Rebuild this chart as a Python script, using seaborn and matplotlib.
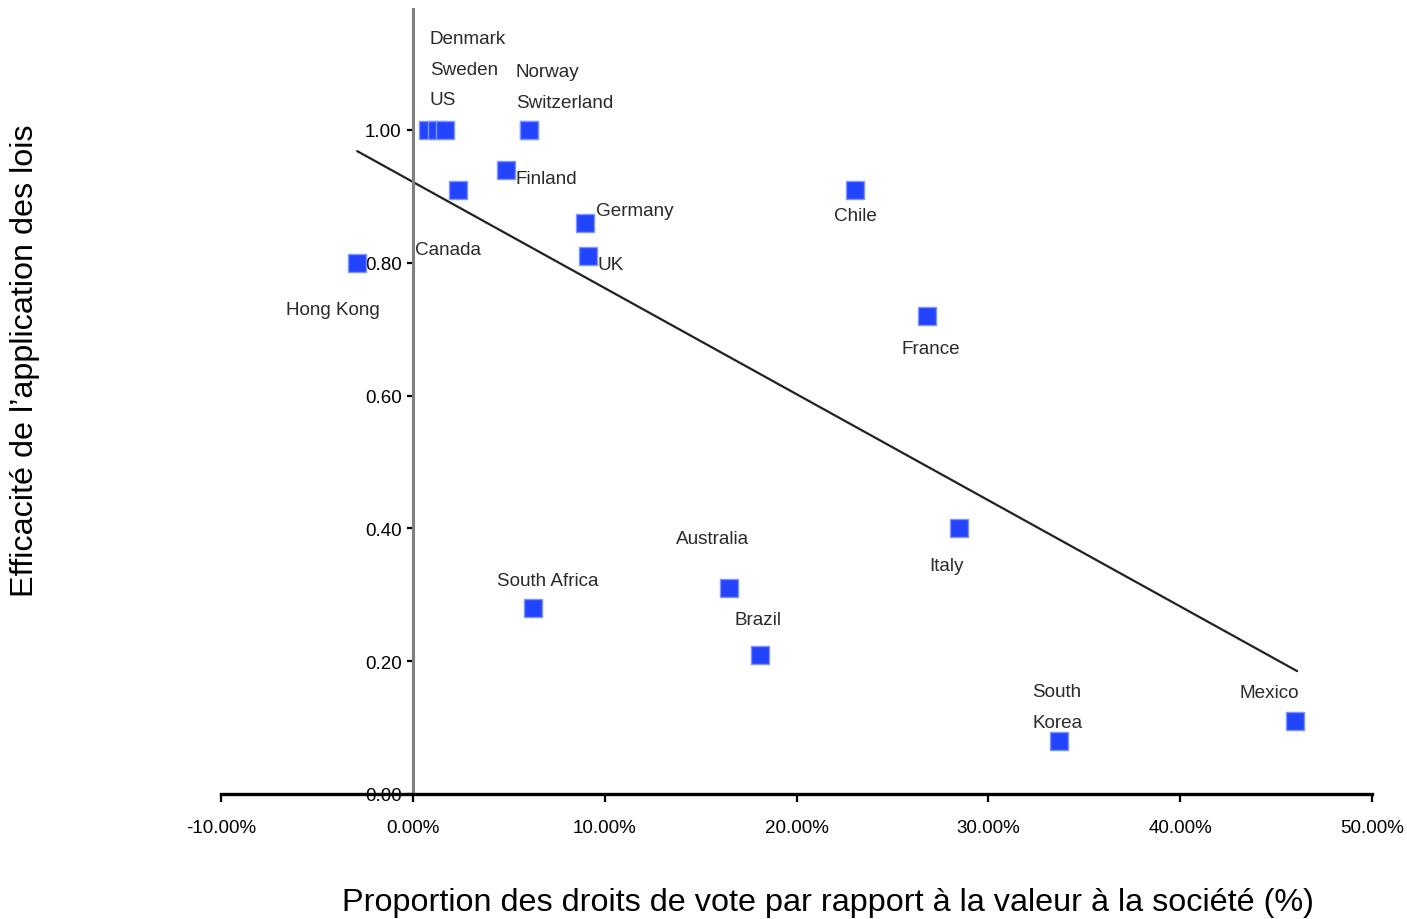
import pandas as pd
import seaborn as sns
import matplotlib.pyplot as plt
from matplotlib.ticker import FuncFormatter

# data
countries = ["Denmark", "Sweden", "US", "Norway", "Switzerland", "Finland", "Canada",
             "Hong Kong", "Germany", "UK", "Chile", "France", "Italy", "Australia",
             "South Africa", "Brazil", "South\nKorea", "Mexico"]
voting_share = [0.8, 1.25, 1.7, 6.05, 6.05, 4.85, 2.35, -2.9, 8.95, 9.15, 23.05, 26.8,
                28.45, 16.5, 6.25, 18.1, 33.7, 46.0]
enforcement = [1.00, 1.00, 1.00, 1.00, 1.00, 0.94, 0.91, 0.80, 0.86, 0.81, 0.91, 0.72,
               0.40, 0.31, 0.28, 0.21, 0.08, 0.11]

# trend line end points (as drawn in the original)
trend_x = [-2.9, 46.1]
trend_y = [0.968, 0.185]

# label offsets in pixels (left edge of text, vertical centre) relative to each point
label_offsets = [(1, 91), (-7, 60), (-16, 30), (-13, 58), (-13, 27), (10, -9), (-43, -60),
                 (-71, -47), (11, 12), (9, -8), (-21, -26), (-25, -33), (-29, -37),
                 (-53, 50), (-36, 28), (-26, 35), (-27, 34), (-56, 28)]

df = pd.DataFrame({"country": countries, "x": voting_share, "y": enforcement})

sns.set_style("white")
plt.rcParams["font.family"] = ["Liberation Sans", "DejaVu Sans"]

fig = plt.figure(figsize=(14.07, 9.2), dpi=100)
ax = fig.add_axes([221 / 1407, 1 - 795 / 920, (1372 - 221) / 1407, (795 - 10) / 920])

sns.lineplot(x=trend_x, y=trend_y, ax=ax, color="#222222", linewidth=1.6)
sns.scatterplot(data=df, x="x", y="y", ax=ax, marker="s", s=150, color="#2244ff",
                edgecolor="#7f95ff", linewidth=1, zorder=3)

for (name, x, y), (dx, dy) in zip(zip(countries, voting_share, enforcement), label_offsets):
    ax.annotate(name, (x, y), xytext=(dx, dy), textcoords="offset pixels",
                ha="left", va="center", fontsize=13.6, color="#2a2a2a",
                linespacing=2.05)

ax.set_xlim(-10, 50)
ax.set_ylim(0, 1.182)
ax.set_xticks(range(-10, 51, 10))
ax.set_yticks([0, 0.2, 0.4, 0.6, 0.8, 1.0])
ax.xaxis.set_major_formatter(FuncFormatter(lambda v, p: f"{v:.2f}%"))
ax.yaxis.set_major_formatter(FuncFormatter(lambda v, p: f"{v:.2f}"))

for s in ["top", "right"]:
    ax.spines[s].set_visible(False)
ax.spines["left"].set_position(("data", 0))
ax.spines["left"].set_color("#808080")
ax.spines["left"].set_linewidth(2.2)
ax.spines["bottom"].set_color("black")
ax.spines["bottom"].set_linewidth(2.4)

ax.tick_params(axis="x", bottom=True, direction="out", length=6, width=1.6, pad=12,
               labelsize=13.5, colors="black")
ax.tick_params(axis="y", left=True, direction="out", length=4, width=1.6, pad=4,
               labelsize=13.5, colors="black")
ax.set_xlabel("")
ax.set_ylabel("")

fig.text(25 / 1407, 1 - 361 / 920, "Efficacité de l’application des lois",
         rotation=90, ha="center", va="center", fontsize=23.3, color="black")
fig.text(828 / 1407, 1 - 903 / 920,
         "Proportion des droits de vote par rapport à la valeur à la société (%)",
         ha="center", va="center", fontsize=23.3, color="black")

fig.savefig("out.png", dpi=100)
